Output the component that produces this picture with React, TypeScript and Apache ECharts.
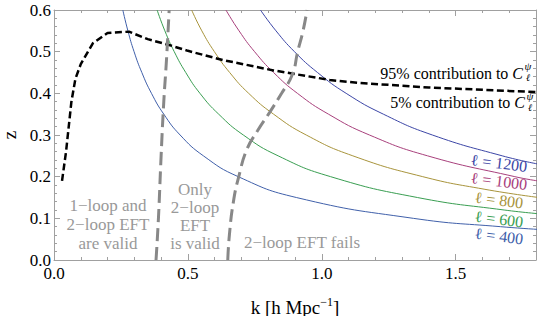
import React, { useEffect, useRef } from "react";
import * as echarts from "echarts";

// ---- data ----
const ell400: number[][] = [
  [0.257, 0.6], [0.276, 0.55], [0.299, 0.5], [0.328, 0.45], [0.364, 0.4], [0.41, 0.35],
  [0.471, 0.3], [0.558, 0.25], [0.688, 0.2], [0.905, 0.15], [1.342, 0.1], [1.667, 0.08], [1.898, 0.07],
];
const ell600: number[][] = [
  [0.385, 0.6], [0.414, 0.55], [0.449, 0.5], [0.492, 0.45], [0.545, 0.4], [0.615, 0.35],
  [0.707, 0.3], [0.837, 0.25], [1.033, 0.2], [1.357, 0.15], [1.681, 0.12], [1.829, 0.11],
];
const ell800: number[][] = [
  [0.514, 0.6], [0.552, 0.55], [0.599, 0.5], [0.656, 0.45], [0.727, 0.4], [0.82, 0.35],
  [0.942, 0.3], [1.116, 0.25], [1.377, 0.2], [1.606, 0.17], [1.81, 0.15],
];
const ell1000: number[][] = [
  [0.642, 0.6], [0.691, 0.55], [0.749, 0.5], [0.82, 0.45], [0.909, 0.4], [1.025, 0.35],
  [1.178, 0.3], [1.395, 0.25], [1.721, 0.2], [1.805, 0.19],
];
const ell1200: number[][] = [
  [0.771, 0.6], [0.829, 0.55], [0.898, 0.5], [0.984, 0.45], [1.091, 0.4], [1.23, 0.35],
  [1.413, 0.3], [1.674, 0.25], [1.81, 0.23],
];
const contribution95: number[][] = [
  [0.03, 0.19], [0.045, 0.26], [0.065, 0.38], [0.08, 0.435], [0.1, 0.47], [0.145, 0.52],
  [0.2, 0.545], [0.28, 0.548], [0.35, 0.53], [0.43, 0.516], [0.5, 0.502], [0.63, 0.48],
  [0.82, 0.455], [1.03, 0.432], [1.14, 0.425], [1.4, 0.414], [1.8, 0.403],
];
const boundaryOneLoop: number[][] = [
  [0.381, 0], [0.39, 0.1], [0.4, 0.25], [0.41, 0.38], [0.42, 0.48], [0.43, 0.6],
];
const boundaryTwoLoop: number[][] = [
  [0.649, 0], [0.655, 0.06], [0.67, 0.14], [0.69, 0.2], [0.72, 0.265], [0.76, 0.31],
  [0.806, 0.355], [0.85, 0.4], [0.89, 0.445], [0.91, 0.5], [0.93, 0.55], [0.945, 0.6],
];
const ellNames = ["ℓ = 400", "ℓ = 600", "ℓ = 800", "ℓ = 1000", "ℓ = 1200"];
const ellColors = ["#4060aa", "#3a9e52", "#a8943c", "#a8407c", "#3c46a6"];
const xTickMajor = 0.5;
const xTickMinor = 0.1;
const yTickMajor = 0.1;
const yTickMinor = 0.02;

const FONT = "'Liberation Serif', 'DejaVu Serif', serif";
const FRAME = "#a0a0a0";

export default function App() {
  const ref = useRef<HTMLDivElement>(null);
  useEffect(() => {
    if (!ref.current) return;
    const chart = echarts.init(ref.current, undefined, { renderer: "svg" });
    const ellSeries = [ell400, ell600, ell800, ell1000, ell1200].map((d, i) => ({
      name: ellNames[i],
      type: "line",
      data: d,
      smooth: true,
      showSymbol: false,
      clip: true,
      lineStyle: { color: ellColors[i], width: 1 },
      silent: true,
    }));
    const gridRect = { left: 54, right: 4, top: 10, bottom: 56, containLabel: false, outerBoundsMode: "none" };
    const xAxisOf = (
      gridIndex: number,
      pos: "bottom" | "top",
      interval: number,
      tickLen: number,
      line: boolean,
      label: boolean
    ) => ({
      type: "value",
      gridIndex,
      position: pos,
      min: 0,
      max: 1.8,
      interval,
      name: label ? "k [h Mpc{sup|−1}]" : "",
      nameLocation: "middle",
      nameGap: 36,
      nameTextStyle: {
        fontFamily: FONT,
        fontSize: 19,
        color: "#000",
        rich: {
          sup: { fontFamily: FONT, fontSize: 12, color: "#000", padding: [0, 0, 10, 0] },
        },
      },
      axisLine: { show: line, onZero: false, lineStyle: { color: FRAME, width: 1 } },
      axisTick: { show: true, inside: true, length: tickLen, lineStyle: { color: FRAME } },
      axisLabel: {
        show: label,
        fontFamily: FONT,
        fontSize: 17,
        color: "#000",
        margin: 5,
        showMaxLabel: false,
        formatter: (v: number) => v.toFixed(1),
      },
      splitLine: { show: false },
    });
    const yAxisOf = (
      gridIndex: number,
      pos: "left" | "right",
      interval: number,
      tickLen: number,
      line: boolean,
      label: boolean
    ) => ({
      type: "value",
      gridIndex,
      position: pos,
      min: 0,
      max: 0.6,
      interval,
      name: label ? "z" : "",
      nameLocation: "middle",
      nameGap: 35,
      nameRotate: 90,
      nameTextStyle: { fontFamily: FONT, fontSize: 19, color: "#000", lineHeight: 19 },
      axisLine: { show: line, onZero: false, lineStyle: { color: FRAME, width: 1 } },
      axisTick: { show: true, inside: true, length: tickLen, lineStyle: { color: FRAME } },
      axisLabel: {
        show: label,
        fontFamily: FONT,
        fontSize: 17,
        color: "#000",
        margin: 3,
        formatter: (v: number) => v.toFixed(1),
      },
      splitLine: { show: false },
    });
    const grayText = { fontFamily: FONT, fontSize: 17, fill: "#999999" };
    const mainLabel = (text: string, x: number, y: number) => ({
      type: "text",
      x,
      y,
      style: {
        text,
        fontFamily: FONT,
        fontSize: 16,
        fill: "#000",
        align: "right",
        verticalAlign: "middle",
        rich: { c: { fontFamily: FONT, fontSize: 16, fontStyle: "italic", color: "#000" } },
      },
    });
    const small = (text: string, x: number, y: number, size: number) => ({
      type: "text",
      x,
      y,
      style: { text, fontFamily: FONT, fontSize: size, fontStyle: "italic", fill: "#000", align: "center", verticalAlign: "middle" },
    });
    chart.setOption({
      animation: false,
      textStyle: { fontFamily: FONT },
      grid: [gridRect, gridRect, gridRect, gridRect],
      xAxis: [
        xAxisOf(0, "bottom", xTickMajor, 6, true, true),
        xAxisOf(1, "bottom", xTickMinor, 3, false, false),
        xAxisOf(2, "top", xTickMajor, 6, true, false),
        xAxisOf(3, "top", xTickMinor, 3, false, false),
      ],
      yAxis: [
        yAxisOf(0, "left", yTickMajor, 6, true, true),
        yAxisOf(1, "left", yTickMinor, 3, false, false),
        yAxisOf(2, "right", yTickMajor, 6, true, false),
        yAxisOf(3, "right", yTickMinor, 3, false, false),
      ],
      series: [
        ...ellSeries,
        {
          name: "95%",
          type: "line",
          data: contribution95,
          showSymbol: false,
          clip: true,
          lineStyle: { color: "#000", width: 2.5, type: [7, 3.5] },
          silent: true,
        },
        {
          name: "b1",
          type: "line",
          data: boundaryOneLoop,
          smooth: true,
          showSymbol: false,
          clip: true,
          lineStyle: { color: "#888888", width: 3, type: [13, 6] },
          silent: true,
        },
        {
          name: "b2",
          type: "line",
          data: boundaryTwoLoop,
          smooth: true,
          showSymbol: false,
          clip: true,
          lineStyle: { color: "#888888", width: 3, type: [13, 6] },
          silent: true,
        },
      ],
      graphic: [
        {
          type: "text",
          x: 108,
          y: 224,
          style: { ...grayText, text: "1−loop and\n2−loop EFT\nare valid", align: "center", verticalAlign: "middle", lineHeight: 19 },
        },
        {
          type: "text",
          x: 195,
          y: 216,
          style: { ...grayText, text: "Only\n2−loop\nEFT\nis valid", align: "center", verticalAlign: "middle", lineHeight: 18 },
        },
        {
          type: "text",
          x: 302,
          y: 242,
          style: { ...grayText, text: "2−loop EFT fails", align: "center", verticalAlign: "middle" },
        },
        mainLabel("95% contribution to {c|C}", 523, 73),
        small("ψ", 528, 66, 11),
        small("ℓ", 528, 77, 10),
        mainLabel("5% contribution to {c|C}", 525, 102),
        small("ψ", 530, 96, 11),
        small("ℓ", 530, 107, 10),
        ...[236, 219, 200, 181, 163].map((yy, i) => ({
          type: "text",
          x: 499,
          y: yy,
          rotation: -0.12,
          style: {
            text: ellNames[i],
            fontFamily: FONT,
            fontSize: 16,
            fill: ellColors[i],
            align: "center",
            verticalAlign: "middle",
          },
        })),
      ],
    });
    return () => chart.dispose();
  }, []);
  return <div ref={ref} style={{ width: 540, height: 316, position: "absolute", left: 0, top: 0 }} />;
}
